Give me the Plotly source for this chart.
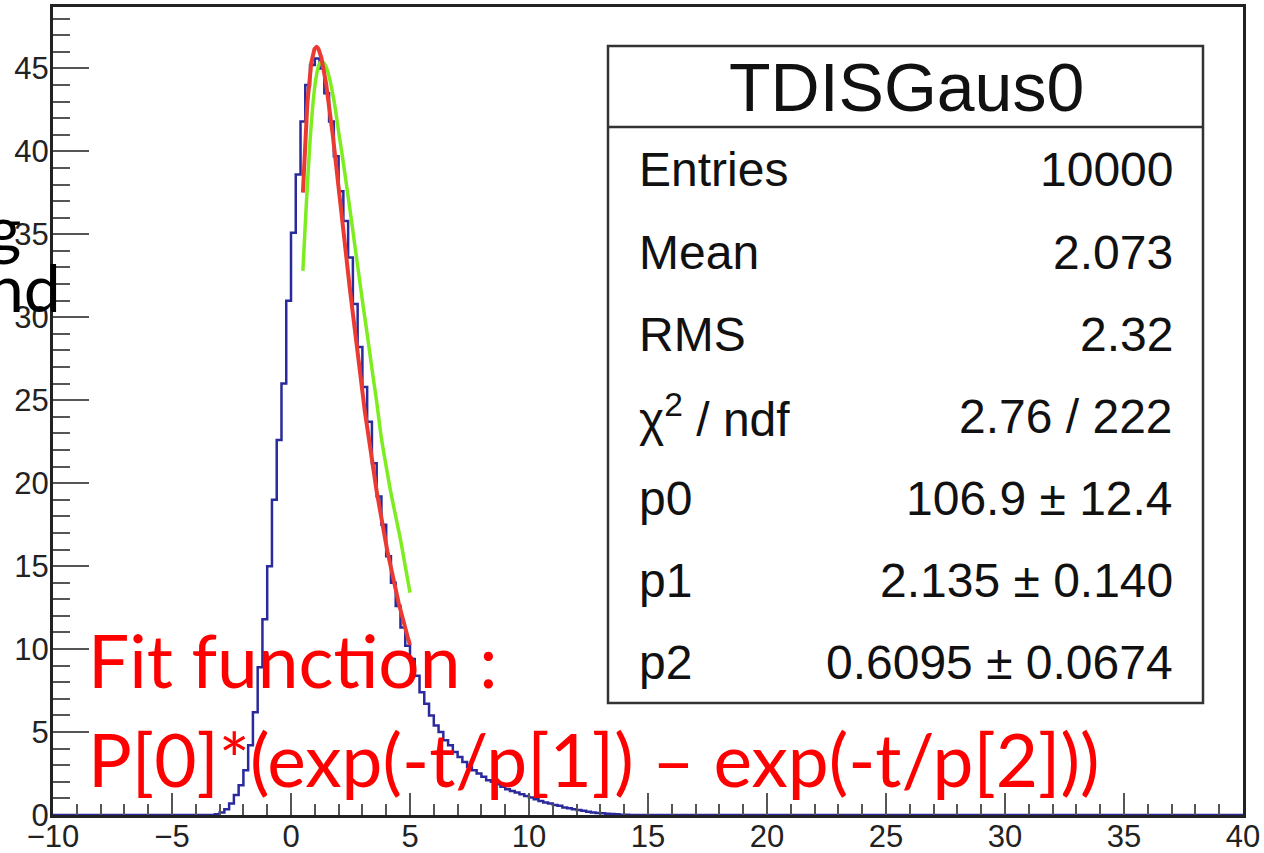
import numpy as np
import plotly.graph_objects as go

# ---- histogram TDISGaus0: 250 bins of width 0.2 over [-10, 40] ----
hist_xmin, hist_xmax, bin_width = -10.0, 40.0, 0.2
# contents of the non-empty bins, starting at the bin whose low edge is -3.4
first_bin_low = -3.4
bin_counts = [
    0.0, 0.05, 0.15, 0.35, 0.7, 1.2, 1.8, 2.7, 4.2, 6.2,          # -3.4 .. -1.4
    8.9, 11.8, 15.0, 19.0, 22.6, 26.0, 31.0, 35.1, 38.6, 41.8,   # -1.4 .. 0.6
    44.0, 45.2, 45.6, 45.0, 43.5, 41.8, 39.7, 37.6, 35.8, 33.6,  # 0.6 .. 2.6
    30.8, 28.2, 25.8, 23.7, 21.2, 19.2, 17.5, 15.6, 14.0, 12.6,  # 2.6 .. 4.6
    11.3, 10.2, 9.4, 8.4, 7.4, 6.7, 6.0, 5.4, 5.0, 4.5,          # 4.6 .. 6.6
    4.2, 3.8, 3.5, 3.2, 2.9, 2.7, 2.5, 2.3, 2.1, 2.0,            # 6.6 .. 8.6
    1.85, 1.7, 1.55, 1.45, 1.35, 1.25, 1.15, 1.05, 0.95, 0.85,   # 8.6 .. 10.6
    0.75, 0.7, 0.6, 0.55, 0.45, 0.4, 0.35, 0.3, 0.25, 0.2,       # 10.6 .. 12.6
    0.15, 0.12, 0.1, 0.08, 0.06, 0.04, 0.02, 0.01, 0.0,          # 12.6 .. 14.4
]

# ---- fit result: P[0]*(exp(-t/p[1]) - exp(-t/p[2])) on [0.5, 5] ----
fit_p0, fit_p1, fit_p2 = 106.9, 2.135, 0.6095
fit_range = (0.5, 5.0)

# ---- second (green) curve ----
green_t = [0.5, 0.6, 0.7, 0.8, 0.9, 1.0, 1.1, 1.2, 1.3, 1.4, 1.5, 1.6, 1.8,
           2.0, 2.2, 2.4, 2.6, 2.8, 3.0, 3.2, 3.4, 3.6, 3.8, 4.0, 4.2, 4.4,
           4.6, 4.8, 5.0]
green_y = [32.8, 35.6, 38.3, 40.6, 42.5, 43.9, 44.8, 45.3, 45.4, 45.3, 45.0,
           44.5, 43.1, 41.2, 39.3, 37.3, 35.2, 33.1, 31.0, 29.0, 26.9, 24.9,
           22.7, 21.0, 19.4, 18.0, 16.6, 15.0, 13.4]

# ---- statistics box ----
stats_title = "TDISGaus0"
stats_labels = ["Entries", "Mean", "RMS", "χ<sup>2</sup> / ndf", "p0", "p1", "p2"]
stats_values = ["10000", "2.073", "2.32", "2.76 / 222",
                "106.9 ± 12.4", "2.135 ± 0.140", "0.6095 ± 0.0674"]

x_ticks = list(range(-10, 41, 5))
y_ticks = list(range(0, 46, 5))

# ---- build the step outline of the histogram ----
n_bins = int(round((hist_xmax - hist_xmin) / bin_width))
contents = np.zeros(n_bins)
start = int(round((first_bin_low - hist_xmin) / bin_width))
contents[start:start + len(bin_counts)] = bin_counts
edges = hist_xmin + bin_width * np.arange(n_bins + 1)
step_x = edges
step_y = np.append(contents, contents[-1])

t_fit = np.linspace(fit_range[0], fit_range[1], 300)
y_fit = fit_p0 * (np.exp(-t_fit / fit_p1) - np.exp(-t_fit / fit_p2))

fig = go.Figure()
fig.add_trace(go.Scatter(x=step_x, y=step_y, mode="lines", line_shape="hv",
                         line=dict(color="#2a2a9c", width=2.5), hoverinfo="skip"))
fig.add_trace(go.Scatter(x=green_t, y=green_y, mode="lines", line_shape="spline",
                         line=dict(color="#7ded1f", width=3.5), hoverinfo="skip"))
fig.add_trace(go.Scatter(x=t_fit, y=y_fit, mode="lines",
                         line=dict(color="#ea3a32", width=4), hoverinfo="skip"))

# ---- page geometry (pixels) ----
W, H = 1264, 853
L, R, T, B = 53, 1243, 7, 815


def px(xp):
    return (xp - L) / (R - L)


def py(yp):
    return (B - yp) / (B - T)


tick_font = dict(family="Liberation Sans, Arial, sans-serif", size=31, color="#222")
fig.update_xaxes(range=[hist_xmin, hist_xmax], tickmode="array", tickvals=x_ticks,
                 ticks="inside", ticklen=22, tickwidth=2, tickcolor="#555",
                 minor=dict(dtick=1, tick0=0, ticks="inside", ticklen=11,
                            tickwidth=2, tickcolor="#555"),
                 showline=True, linecolor="#222", linewidth=3, mirror=True,
                 showgrid=False, zeroline=False, tickfont=tick_font,
                 ticklabelstandoff=-8, automargin=False)
fig.update_yaxes(range=[0, 48.7], tickmode="array", tickvals=y_ticks,
                 ticks="inside", ticklen=36, tickwidth=2, tickcolor="#555",
                 minor=dict(dtick=1, tick0=0, ticks="inside", ticklen=17,
                            tickwidth=2, tickcolor="#555"),
                 showline=True, linecolor="#222", linewidth=3, mirror=True,
                 showgrid=False, zeroline=False, tickfont=tick_font,
                 ticklabelstandoff=-5, automargin=False)

shapes = [
    dict(type="rect", xref="paper", yref="paper", x0=px(608), x1=px(1203),
         y0=py(703), y1=py(46), line=dict(color="#333", width=2.5),
         fillcolor="white", layer="above"),
    dict(type="line", xref="paper", yref="paper", x0=px(608), x1=px(1203),
         y0=py(127), y1=py(127), line=dict(color="#333", width=2.5)),
]

annotations = [
    dict(text=stats_title, x=px(906), y=py(87), xref="paper", yref="paper",
         xanchor="center", yanchor="middle", showarrow=False,
         font=dict(family="Liberation Sans, Arial, sans-serif", size=68, color="#111")),
]
row_y = [170, 252, 334, 416, 498, 580, 662]
for lab, val, yy in zip(stats_labels, stats_values, row_y):
    annotations.append(dict(text=lab, x=px(637), y=py(yy), xref="paper", yref="paper",
                            xanchor="left", yanchor="middle", showarrow=False,
                            font=dict(family="Liberation Sans, Arial, sans-serif",
                                      size=48, color="#111")))
    annotations.append(dict(text=val, x=px(1175), y=py(yy), xref="paper", yref="paper",
                            xanchor="right", yanchor="middle", showarrow=False,
                            font=dict(family="Liberation Sans, Arial, sans-serif",
                                      size=48, color="#111")))

red_font = dict(family="Lato, sans-serif", size=73, color="#ff0000")
annotations += [
    dict(text="Fit function :", x=px(86), y=py(660), xref="paper", yref="paper",
         xanchor="left", yanchor="middle", showarrow=False, font=red_font),
    dict(text="P[0]*(exp(-t/p[1]) – exp(-t/p[2]))", x=px(86), y=py(759),
         xref="paper", yref="paper", xanchor="left", yanchor="middle",
         showarrow=False, font=red_font),
    dict(text="g", x=px(23), y=py(227), xref="paper", yref="paper",
         xanchor="right", yanchor="middle", showarrow=False,
         font=dict(family="Lato, sans-serif", size=66, color="#000")),
    dict(text="nd", x=px(63), y=py(286), xref="paper", yref="paper",
         xanchor="right", yanchor="middle", showarrow=False,
         font=dict(family="Lato, sans-serif", size=66, color="#000")),
]

fig.update_layout(width=W, height=H, autosize=False,
                  margin=dict(l=L, r=W - R, t=T, b=H - B, pad=0),
                  paper_bgcolor="white", plot_bgcolor="white",
                  showlegend=False, shapes=shapes, annotations=annotations)

fig.write_html("out.html")
